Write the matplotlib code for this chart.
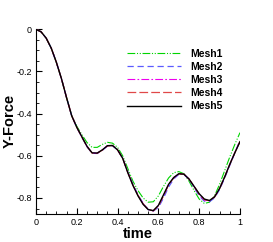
import matplotlib
matplotlib.use("Agg")
import matplotlib.pyplot as plt
from matplotlib.ticker import MultipleLocator

plt.rcParams['font.family'] = ['Liberation Sans', 'DejaVu Sans']
plt.rcParams['axes.unicode_minus'] = False

# time samples (every 0.025)
time = [0.0, 0.025, 0.05, 0.075, 0.1, 0.125, 0.15, 0.175, 0.2, 0.225,
        0.25, 0.275, 0.3, 0.325, 0.35, 0.375, 0.4, 0.425, 0.45, 0.475,
        0.5, 0.525, 0.55, 0.575, 0.6, 0.625, 0.65, 0.675, 0.7, 0.725,
        0.75, 0.775, 0.8, 0.825, 0.85, 0.875, 0.9, 0.925, 0.95, 0.975, 1.0]

mesh1 = [0.0, -0.012, -0.042, -0.09, -0.157, -0.235, -0.325, -0.41, -0.46, -0.5,
         -0.537, -0.56, -0.56, -0.546, -0.536, -0.54, -0.56, -0.6, -0.66, -0.72,
         -0.765, -0.8, -0.82, -0.818, -0.79, -0.745, -0.705, -0.68, -0.675, -0.685,
         -0.72, -0.765, -0.805, -0.826, -0.82, -0.79, -0.735, -0.67, -0.605, -0.545, -0.49]

mesh2 = [0.0, -0.012, -0.042, -0.09, -0.157, -0.235, -0.325, -0.41, -0.465, -0.512,
         -0.557, -0.588, -0.589, -0.574, -0.554, -0.552, -0.572, -0.612, -0.675, -0.735,
         -0.785, -0.825, -0.855, -0.862, -0.845, -0.8, -0.748, -0.71, -0.688, -0.688,
         -0.712, -0.75, -0.79, -0.815, -0.818, -0.8, -0.76, -0.705, -0.645, -0.585, -0.527]

mesh3 = [0.0, -0.012, -0.042, -0.09, -0.157, -0.235, -0.325, -0.41, -0.465, -0.511,
         -0.556, -0.587, -0.588, -0.573, -0.553, -0.551, -0.572, -0.612, -0.678, -0.738,
         -0.787, -0.827, -0.855, -0.861, -0.838, -0.79, -0.738, -0.705, -0.686, -0.687,
         -0.71, -0.746, -0.784, -0.81, -0.814, -0.796, -0.756, -0.7, -0.641, -0.585, -0.531]

mesh4 = [0.0, -0.012, -0.042, -0.09, -0.157, -0.235, -0.325, -0.41, -0.465, -0.511,
         -0.556, -0.587, -0.588, -0.573, -0.553, -0.551, -0.572, -0.612, -0.679, -0.739,
         -0.788, -0.828, -0.855, -0.861, -0.838, -0.79, -0.737, -0.704, -0.686, -0.687,
         -0.71, -0.745, -0.782, -0.808, -0.813, -0.795, -0.755, -0.7, -0.64, -0.585, -0.532]

mesh5 = [0.0, -0.012, -0.042, -0.09, -0.157, -0.235, -0.325, -0.41, -0.465, -0.51,
         -0.555, -0.586, -0.587, -0.572, -0.552, -0.551, -0.572, -0.612, -0.68, -0.74,
         -0.79, -0.83, -0.855, -0.86, -0.835, -0.785, -0.735, -0.703, -0.685, -0.687,
         -0.71, -0.745, -0.78, -0.805, -0.812, -0.795, -0.755, -0.7, -0.64, -0.585, -0.533]

labels = ['Mesh1', 'Mesh2', 'Mesh3', 'Mesh4', 'Mesh5']
x_ticklabels = ['0', '0.2', '0.4', '0.6', '0.8', '1']
y_ticklabels = ['-0.8', '-0.6', '-0.4', '-0.2', '0']

fig = plt.figure(figsize=(2.73, 2.42), dpi=100)
ax = fig.add_axes([36/273, 1 - 214/242, 204/273, (214 - 29.3)/242])

ax.plot(time, mesh1, color='#00d400', lw=0.8, dashes=(7, 1.5, 1, 1.5, 1, 1.5), label=labels[0])
ax.plot(time, mesh2, color='#5a5aff', lw=0.9, dashes=(5, 3), label=labels[1])
ax.plot(time, mesh3, color='#ee00ee', lw=0.8, dashes=(7, 2, 1.5, 2), label=labels[2])
ax.plot(time, mesh4, color='#e04848', lw=0.9, dashes=(7, 2.5), label=labels[3])
ax.plot(time, mesh5, color='black', lw=1.0, label=labels[4])

ax.set_xlim(0, 1)
ax.set_ylim(-0.876, 0)
ax.set_xticks([0, 0.2, 0.4, 0.6, 0.8, 1.0])
ax.set_xticklabels(x_ticklabels)
ax.set_yticks([-0.8, -0.6, -0.4, -0.2, 0])
ax.set_yticklabels(y_ticklabels)
ax.xaxis.set_minor_locator(MultipleLocator(0.05))
ax.yaxis.set_minor_locator(MultipleLocator(0.05))
ax.tick_params(which='major', direction='in', length=4, width=0.8, labelsize=6.5, pad=3)
ax.tick_params(which='minor', direction='in', length=2, width=0.6)
ax.spines['top'].set_visible(False)
ax.spines['right'].set_visible(False)
ax.spines['left'].set_linewidth(0.8)
ax.spines['bottom'].set_linewidth(0.8)

ax.set_xlabel('time', fontsize=10.5, fontweight='bold', labelpad=0)
ax.set_ylabel('Y-Force', fontsize=10.5, fontweight='bold')
ax.yaxis.set_label_coords(-0.093, 0.505)

ax.legend(loc='upper left', bbox_to_anchor=(0.446, 0.895), frameon=False,
          prop={'size': 7.5, 'weight': 'bold'}, handlelength=5.2, handletextpad=0.85,
          labelspacing=0.3, borderpad=0, borderaxespad=0)

fig.savefig('out.png', dpi=100)
